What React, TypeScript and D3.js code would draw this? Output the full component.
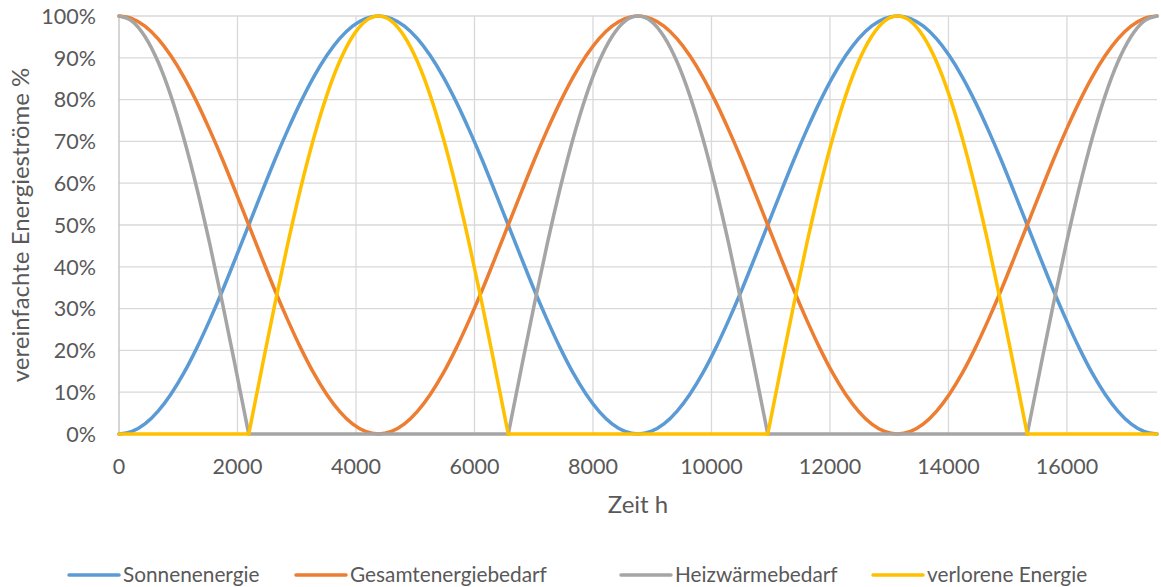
import React from "react";
import * as d3 from "d3";

const HOURS = [
  0, 219, 438, 657, 876, 1095, 1314, 1533, 1752, 1971,
  2190, 2409, 2628, 2847, 3066, 3285, 3504, 3723, 3942, 4161,
  4380, 4599, 4818, 5037, 5256, 5475, 5694, 5913, 6132, 6351,
  6570, 6789, 7008, 7227, 7446, 7665, 7884, 8103, 8322, 8541,
  8760, 8979, 9198, 9417, 9636, 9855, 10074, 10293, 10512, 10731,
  10950, 11169, 11388, 11607, 11826, 12045, 12264, 12483, 12702, 12921,
  13140, 13359, 13578, 13797, 14016, 14235, 14454, 14673, 14892, 15111,
  15330, 15549, 15768, 15987, 16206, 16425, 16644, 16863, 17082, 17301,
  17520,
];

const SONNENENERGIE = [
  0, 0.6, 2.4, 5.4, 9.5, 14.6, 20.6, 27.3, 34.5, 42.2,
  50, 57.8, 65.5, 72.7, 79.4, 85.4, 90.5, 94.6, 97.6, 99.4,
  100, 99.4, 97.6, 94.6, 90.5, 85.4, 79.4, 72.7, 65.5, 57.8,
  50, 42.2, 34.5, 27.3, 20.6, 14.6, 9.5, 5.4, 2.4, 0.6,
  0, 0.6, 2.4, 5.4, 9.5, 14.6, 20.6, 27.3, 34.5, 42.2,
  50, 57.8, 65.5, 72.7, 79.4, 85.4, 90.5, 94.6, 97.6, 99.4,
  100, 99.4, 97.6, 94.6, 90.5, 85.4, 79.4, 72.7, 65.5, 57.8,
  50, 42.2, 34.5, 27.3, 20.6, 14.6, 9.5, 5.4, 2.4, 0.6,
  0,
];

const GESAMTENERGIEBEDARF = [
  100, 99.4, 97.6, 94.6, 90.5, 85.4, 79.4, 72.7, 65.5, 57.8,
  50, 42.2, 34.5, 27.3, 20.6, 14.6, 9.5, 5.4, 2.4, 0.6,
  0, 0.6, 2.4, 5.4, 9.5, 14.6, 20.6, 27.3, 34.5, 42.2,
  50, 57.8, 65.5, 72.7, 79.4, 85.4, 90.5, 94.6, 97.6, 99.4,
  100, 99.4, 97.6, 94.6, 90.5, 85.4, 79.4, 72.7, 65.5, 57.8,
  50, 42.2, 34.5, 27.3, 20.6, 14.6, 9.5, 5.4, 2.4, 0.6,
  0, 0.6, 2.4, 5.4, 9.5, 14.6, 20.6, 27.3, 34.5, 42.2,
  50, 57.8, 65.5, 72.7, 79.4, 85.4, 90.5, 94.6, 97.6, 99.4,
  100,
];

const HEIZWAERMEBEDARF = [
  100, 98.8, 95.1, 89.1, 80.9, 70.7, 58.8, 45.4, 30.9, 15.6,
  0, 0, 0, 0, 0, 0, 0, 0, 0, 0,
  0, 0, 0, 0, 0, 0, 0, 0, 0, 0,
  0, 15.6, 30.9, 45.4, 58.8, 70.7, 80.9, 89.1, 95.1, 98.8,
  100, 98.8, 95.1, 89.1, 80.9, 70.7, 58.8, 45.4, 30.9, 15.6,
  0, 0, 0, 0, 0, 0, 0, 0, 0, 0,
  0, 0, 0, 0, 0, 0, 0, 0, 0, 0,
  0, 15.6, 30.9, 45.4, 58.8, 70.7, 80.9, 89.1, 95.1, 98.8,
  100,
];

const VERLORENE_ENERGIE = [
  0, 0, 0, 0, 0, 0, 0, 0, 0, 0,
  0, 15.6, 30.9, 45.4, 58.8, 70.7, 80.9, 89.1, 95.1, 98.8,
  100, 98.8, 95.1, 89.1, 80.9, 70.7, 58.8, 45.4, 30.9, 15.6,
  0, 0, 0, 0, 0, 0, 0, 0, 0, 0,
  0, 0, 0, 0, 0, 0, 0, 0, 0, 0,
  0, 15.6, 30.9, 45.4, 58.8, 70.7, 80.9, 89.1, 95.1, 98.8,
  100, 98.8, 95.1, 89.1, 80.9, 70.7, 58.8, 45.4, 30.9, 15.6,
  0, 0, 0, 0, 0, 0, 0, 0, 0, 0,
  0,
];

const SERIES_NAMES = ["Sonnenenergie", "Gesamtenergiebedarf", "Heizwärmebedarf", "verlorene Energie"];
const SERIES_VALUES = [SONNENENERGIE, GESAMTENERGIEBEDARF, HEIZWAERMEBEDARF, VERLORENE_ENERGIE];
const COLORS = ["#5B9BD5", "#ED7D31", "#A5A5A5", "#FFC000"];
const X_TICKS = [0, 2000, 4000, 6000, 8000, 10000, 12000, 14000, 16000];
const Y_TICKS = [0, 10, 20, 30, 40, 50, 60, 70, 80, 90, 100];
const X_MAX = 17520;

const W = 1161;
const H = 587;
const M = { left: 119, right: 1157, top: 16, bottom: 434 };
const FONT = "Lato, 'Open Sans', sans-serif";
const TEXT = "#595959";

type P = { h: number; v: number; pos: boolean; zero: boolean };

export default function App() {
  const x = d3.scaleLinear().domain([0, X_MAX]).range([M.left, M.right]);
  const y = d3.scaleLinear().domain([0, 100]).range([M.bottom, M.top]);

  const smooth = d3
    .line<P>()
    .defined((d) => d.pos)
    .curve(d3.curveMonotoneX)
    .x((d) => x(d.h))
    .y((d) => y(d.v));
  const flat = d3
    .line<P>()
    .defined((d) => d.zero)
    .x((d) => x(d.h))
    .y((d) => y(d.v));

  const buildPoints = (vals: number[]): P[] =>
    HOURS.map((h, j) => {
      const v = vals[j];
      const prev = j > 0 ? vals[j - 1] : undefined;
      const next = j < vals.length - 1 ? vals[j + 1] : undefined;
      const pos = v > 0 || (prev !== undefined && prev > 0) || (next !== undefined && next > 0);
      const zero = v === 0 && (prev === 0 || next === 0);
      return { h, v, pos, zero };
    });

  const legendX = [69, 296, 621, 873];

  return (
    <svg
      width={W}
      height={H}
      style={{ position: "absolute", left: 0, top: 0, background: "#fff" }}
      fontFamily={FONT}
    >
      {Y_TICKS.map((t) => (
        <line key={"hy" + t} x1={M.left} x2={M.right} y1={y(t)} y2={y(t)} stroke="#d9d9d9" strokeWidth={1.3} />
      ))}
      {X_TICKS.filter((t) => t > 0).map((t) => (
        <line key={"vx" + t} x1={x(t)} x2={x(t)} y1={M.top} y2={M.bottom} stroke="#d9d9d9" strokeWidth={1.3} />
      ))}
      <line x1={M.left} x2={M.left} y1={M.top} y2={M.bottom} stroke="#bfbfbf" strokeWidth={1.3} />
      <line x1={M.left} x2={M.right} y1={M.bottom} y2={M.bottom} stroke="#bfbfbf" strokeWidth={1.3} />

      {SERIES_VALUES.map((vals, i) => {
        const pts = buildPoints(vals);
        const hasFlat = pts.some((p) => p.zero);
        return (
          <g key={SERIES_NAMES[i]} fill="none" stroke={COLORS[i]} strokeWidth={3.5} strokeLinejoin="round" strokeLinecap="round">
            {hasFlat && <path d={flat(pts) || ""} />}
            <path d={smooth(pts) || ""} />
          </g>
        );
      })}

      {Y_TICKS.map((t) => (
        <text key={"yl" + t} x={96} y={y(t)} dy="0.36em" textAnchor="end" fontSize={21.5} fill={TEXT}>
          {t + "%"}
        </text>
      ))}
      {X_TICKS.map((t) => (
        <text key={"xl" + t} x={x(t)} y={466} dy="0.36em" textAnchor="middle" fontSize={21.5} fill={TEXT}>
          {t}
        </text>
      ))}

      <text x={(M.left + M.right) / 2} y={504} dy="0.36em" textAnchor="middle" fontSize={24} fill={TEXT}>
        Zeit h
      </text>
      <text
        transform={`translate(20, ${(M.top + M.bottom) / 2}) rotate(-90)`}
        dy="0.36em"
        textAnchor="middle"
        fontSize={24}
        fill={TEXT}
      >
        vereinfachte Energieströme %
      </text>

      {SERIES_NAMES.map((n, i) => (
        <g key={"lg" + n}>
          <line
            x1={legendX[i]}
            x2={legendX[i] + 50}
            y1={575}
            y2={575}
            stroke={COLORS[i]}
            strokeWidth={3.5}
            strokeLinecap="round"
          />
          <text x={legendX[i] + 54} y={575} dy="0.36em" fontSize={20.8} fill={TEXT}>
            {n}
          </text>
        </g>
      ))}
    </svg>
  );
}
